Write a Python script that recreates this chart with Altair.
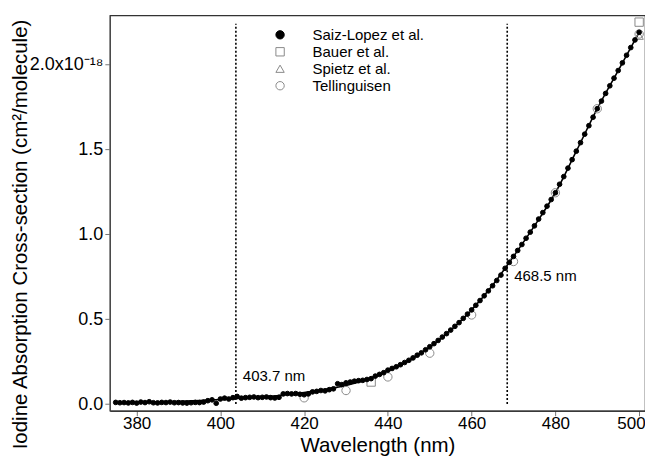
import altair as alt
import pandas as pd

# Saiz-Lopez et al. (1 nm steps, units of 1e-18 cm2/molecule)
saiz_wl = list(range(375, 501))
saiz_val = [
    0.010, 0.008, 0.009, 0.007, 0.010, 0.006, 0.012, 0.009, 0.014, 0.008,
    0.007, 0.010, 0.009, 0.012, 0.008, 0.009, 0.007, 0.006, 0.008, 0.010,
    0.009, 0.012, 0.020, 0.025, 0.005, 0.030, 0.035, 0.030, 0.038, 0.045,
    0.035, 0.038, 0.040, 0.042, 0.038, 0.040, 0.042, 0.038, 0.036, 0.040,
    0.060, 0.062, 0.060, 0.062, 0.058, 0.055, 0.060, 0.072, 0.075, 0.080,
    0.078, 0.085, 0.090, 0.120, 0.115, 0.125, 0.130, 0.135, 0.138, 0.140,
    0.145, 0.150, 0.165, 0.175, 0.185, 0.200, 0.210, 0.220, 0.232, 0.245,
    0.258, 0.272, 0.288, 0.302, 0.320, 0.338, 0.356, 0.375, 0.395, 0.415,
    0.436, 0.458, 0.480, 0.505, 0.530, 0.555, 0.582, 0.610, 0.638, 0.667,
    0.697, 0.728, 0.760, 0.800, 0.835, 0.870, 0.905, 0.940, 0.977, 1.013,
    1.050, 1.090, 1.128, 1.166, 1.205, 1.245, 1.295, 1.340, 1.390, 1.440,
    1.490, 1.540, 1.590, 1.640, 1.690, 1.740, 1.785, 1.830, 1.875, 1.920,
    1.965, 2.010, 2.055, 2.100, 2.145, 2.190,
]

# Smooth fit curve
fit_wl = [375, 380, 385, 390, 395, 400, 405, 410, 415, 420, 425, 430, 435,
          440, 445, 450, 455, 460, 465, 470, 475, 480, 485, 490, 495, 500]
fit_val = [0.005, 0.008, 0.012, 0.016, 0.021, 0.027, 0.034, 0.043, 0.054,
           0.068, 0.087, 0.110, 0.145, 0.195, 0.255, 0.335, 0.435, 0.555,
           0.700, 0.870, 1.050, 1.245, 1.490, 1.740, 1.965, 2.190]

bauer_wl = [436, 500]
bauer_val = [0.13, 2.25]
spietz_wl = [500]
spietz_val = [2.17]
tell_wl = [420, 430, 440, 450, 460, 470, 480, 490, 500]
tell_val = [0.037, 0.08, 0.16, 0.30, 0.525, 0.84, 1.245, 1.74, 2.18]

series_names = ["Saiz-Lopez et al.", "Bauer et al.", "Spietz et al.", "Tellinguisen"]

saiz_df = pd.DataFrame({"wl": saiz_wl, "val": saiz_val, "series": series_names[0]})
rows = []
for w, v in zip(bauer_wl, bauer_val):
    rows.append({"wl": w, "val": v, "series": series_names[1]})
for w, v in zip(spietz_wl, spietz_val):
    rows.append({"wl": w, "val": v, "series": series_names[2]})
for w, v in zip(tell_wl, tell_val):
    rows.append({"wl": w, "val": v, "series": series_names[3]})
other_df = pd.DataFrame(rows)

fit_df = pd.DataFrame({"wl": fit_wl, "val": fit_val})

marker_wl = [403.7, 468.5]
marker_labels = ["403.7 nm", "468.5 nm"]
marker_label_y = [0.168, 0.755]
vlines = pd.DataFrame({"wl": marker_wl, "y0": [0.0, 0.0], "y1": [2.24, 2.24]})
vtext = pd.DataFrame({"wl": marker_wl, "val": marker_label_y, "label": marker_labels})

xscale = alt.Scale(domain=[373.6, 501.4], nice=False, zero=False)
yscale = alt.Scale(domain=[-0.039, 2.29], nice=False, zero=False)

xaxis = alt.Axis(values=[380, 400, 420, 440, 460, 480, 500], title="Wavelength (nm)",
                 grid=False, tickSize=5, labelFontSize=17, titleFontSize=20.5,
                 titleFontWeight="normal", labelColor="black", titleColor="black",
                 domainColor="#111111", tickColor="#777777", labelPadding=0,
                 labelAlign={"condition": {"test": "datum.value == 500", "value": "right"},
                             "value": "center"},
                 labelOffset={"condition": {"test": "datum.value == 500", "value": 6},
                              "value": 0},
                 titleBaseline="alphabetic", titleY=41)
yaxis = alt.Axis(values=[0, 0.5, 1.0, 1.5, 2.0],
                 title="Iodine Absorption Cross-section (cm²/molecule)",
                 labelExpr="datum.value == 2 ? '2.0x10⁻¹⁸' : format(datum.value, '.1f')",
                 grid=False, tickSize=5, labelFontSize=18, titleFontSize=20.5,
                 titleFontWeight="normal", labelColor="black", titleColor="black",
                 domainColor="#444444", tickColor="#777777", labelPadding=2,
                 titleX=-89, titleY=219, titleBaseline="middle", titleAngle=270)

base_x = alt.X("wl:Q", scale=xscale, axis=xaxis)
base_y = alt.Y("val:Q", scale=yscale, axis=yaxis)

fit_line = alt.Chart(fit_df).mark_line(color="black", strokeWidth=1.6, interpolate="monotone").encode(
    x=base_x, y=base_y)

legend = alt.Legend(title=None, orient="none", legendX=163, legendY=12, labelFontSize=15,
                    labelColor="black", rowPadding=1, symbolSize=70, symbolStrokeWidth=1,
                    labelOffset=25, padding=0)

shape_scale = alt.Scale(domain=series_names, range=["circle", "square", "triangle-up", "circle"])
fill_scale = alt.Scale(domain=series_names, range=["black", "transparent", "transparent", "transparent"])
stroke_scale = alt.Scale(domain=series_names, range=["black", "#8a8a8a", "#8a8a8a", "#8a8a8a"])


def point_layer(df, size):
    return alt.Chart(df).mark_point(size=size, strokeWidth=1, opacity=1).encode(
        x=alt.X("wl:Q", scale=xscale),
        y=alt.Y("val:Q", scale=yscale),
        shape=alt.Shape("series:N", scale=shape_scale, legend=legend),
        fill=alt.Fill("series:N", scale=fill_scale, legend=legend),
        stroke=alt.Stroke("series:N", scale=stroke_scale, legend=legend),
    )


saiz_pts = point_layer(saiz_df, 22)
other_pts = point_layer(other_df, 70)

rules = alt.Chart(vlines).mark_rule(color="black", strokeDash=[2, 2], strokeWidth=1.6).encode(
    x=alt.X("wl:Q", scale=xscale), y=alt.Y("y0:Q", scale=yscale), y2="y1:Q")

labels = alt.Chart(vtext).mark_text(align="left", baseline="middle", dx=7, fontSize=15,
                                    font="Liberation Sans", color="black").encode(
    x=alt.X("wl:Q", scale=xscale), y=alt.Y("val:Q", scale=yscale), text="label:N")

chart = alt.layer(fit_line, rules, other_pts, saiz_pts, labels).properties(
    width=536, height=396,
    autosize=alt.AutoSizeParams(type="none"),
    padding={"left": 102, "top": 7, "right": 0, "bottom": 45},
).configure(font="Liberation Sans").configure_view(stroke="#333333", strokeWidth=1.2)

chart.save("out.html", embed_options={"renderer": "svg", "actions": False})
